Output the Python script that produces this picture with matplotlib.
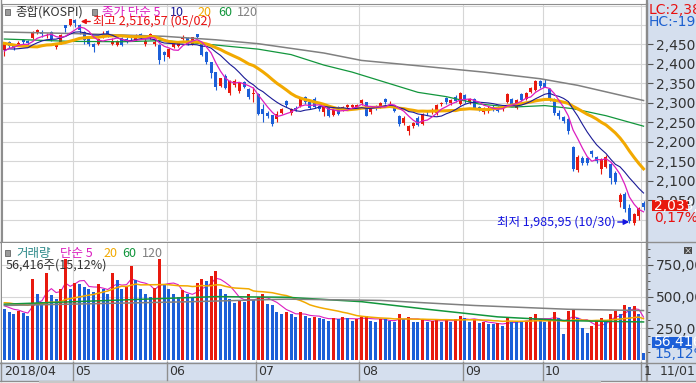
import numpy as np
import pandas as pd
import matplotlib
matplotlib.use('Agg')
import matplotlib.pyplot as plt
from matplotlib.patches import Rectangle

plt.rcParams['font.family'] = ['Noto Sans CJK KR', 'DejaVu Sans']
NUM_FONT = ['DejaVu Sans']

# ---------------- data ----------------
month_labels = ['2018/04', '05', '06', '07', '08', '09', '10', '1']
month_start = [0, 15, 35, 54, 76, 98, 115, 136]

opens = [2437, 2457, 2446, 2448, 2462, 2459, 2467, 2481, 2483, 2473, 2481, 2444, 2454, 2499, 2500,
         2514, 2501, 2482, 2466, 2452, 2452, 2470, 2484, 2452, 2449, 2466, 2465, 2468, 2462, 2478,
         2450, 2466, 2450, 2448, 2431,
         2418, 2444, 2447, 2465, 2466, 2452, 2476, 2451, 2430, 2404, 2378, 2344, 2370, 2325, 2345,
         2330, 2353, 2336, 2323,
         2323, 2285, 2273, 2268, 2258, 2275, 2306, 2275, 2288, 2293, 2316, 2302, 2310, 2292, 2276,
         2289, 2270, 2289, 2282, 2289, 2289, 2288,
         2299, 2301, 2276, 2290, 2291, 2309, 2301, 2293, 2267, 2247, 2228, 2241, 2262, 2245, 2275,
         2277, 2273, 2296, 2312, 2299, 2316, 2297,
         2319, 2301, 2310, 2289, 2276, 2278, 2290, 2290, 2285, 2302, 2310, 2287, 2322, 2310, 2328,
         2333, 2356,
         2352, 2336, 2310, 2273, 2263, 2258, 2187, 2128, 2157, 2157, 2176, 2160, 2131, 2136, 2142,
         2121, 2044, 2065, 2030, 1990, 2008,
         2042]
highs = [2456, 2460, 2449, 2460, 2465, 2462, 2484, 2491, 2486, 2480, 2484, 2453, 2477, 2501, 2516,
         2516.57, 2503, 2484, 2470, 2455, 2466, 2484, 2487, 2466, 2462, 2468, 2468, 2472, 2476, 2480,
         2463, 2480, 2462, 2450, 2434,
         2441, 2454, 2456, 2475, 2468, 2469, 2478, 2453, 2433, 2406, 2380, 2365, 2374, 2358, 2360,
         2352, 2356, 2338, 2340,
         2325, 2296, 2280, 2270, 2278, 2287, 2308, 2288, 2292, 2313, 2318, 2306, 2314, 2295, 2292,
         2291, 2284, 2292, 2292, 2298, 2298, 2298,
         2310, 2303, 2292, 2294, 2303, 2312, 2306, 2295, 2270, 2265, 2244, 2252, 2265, 2274, 2280,
         2286, 2297, 2303, 2316, 2310, 2320, 2328,
         2322, 2312, 2313, 2293, 2290, 2292, 2294, 2293, 2290, 2326, 2313, 2310, 2325, 2327, 2341,
         2358, 2358,
         2360, 2338, 2312, 2282, 2266, 2262, 2190, 2165, 2163, 2160, 2180, 2163, 2158, 2165, 2145,
         2124, 2068, 2070, 2040, 2016, 2032,
         2047]
lows = [2420, 2441, 2436, 2446, 2452, 2448, 2465, 2478, 2470, 2467, 2460, 2438, 2452, 2483, 2497,
        2494, 2478, 2450, 2445, 2430, 2448, 2467, 2470, 2449, 2445, 2445, 2455, 2462, 2460, 2463,
        2446, 2464, 2446, 2400, 2408,
        2415, 2442, 2444, 2462, 2449, 2449, 2465, 2420, 2400, 2364, 2334, 2340, 2335, 2320, 2340,
        2326, 2338, 2310, 2301,
        2268, 2250, 2262, 2240, 2250, 2272, 2290, 2270, 2278, 2290, 2298, 2285, 2286, 2280, 2267,
        2264, 2266, 2268, 2278, 2285, 2284, 2284,
        2295, 2265, 2272, 2282, 2288, 2298, 2297, 2276, 2241, 2243, 2218, 2236, 2241, 2243, 2268,
        2272, 2270, 2292, 2298, 2295, 2302, 2294,
        2300, 2297, 2285, 2278, 2272, 2274, 2280, 2276, 2280, 2300, 2295, 2285, 2305, 2308, 2326,
        2331, 2338,
        2340, 2305, 2268, 2258, 2248, 2220, 2126, 2122, 2140, 2140, 2162, 2146, 2118, 2133, 2092,
        2092, 2032, 2020, 1990, 1985.95, 2000,
        2025]
closes = [2453, 2445, 2442, 2455, 2456, 2454, 2479, 2486, 2476, 2475, 2465, 2449, 2475, 2492, 2515,
          2505, 2487, 2461, 2450, 2443, 2464, 2477, 2476, 2458, 2459, 2448, 2460, 2466, 2471, 2466,
          2460, 2478, 2457, 2409, 2423,
          2439, 2451, 2453, 2470, 2451, 2468, 2470, 2423, 2404, 2376, 2340, 2363, 2337, 2357, 2357,
          2350, 2342, 2314, 2326,
          2271, 2272, 2265, 2245, 2272, 2285, 2294, 2285, 2282, 2310, 2302, 2288, 2290, 2284, 2289,
          2267, 2282, 2272, 2289, 2295, 2295, 2295,
          2307, 2267, 2289, 2287, 2300, 2302, 2303, 2280, 2245, 2262, 2241, 2249, 2244, 2272, 2273,
          2281, 2295, 2299, 2302, 2307, 2305, 2325,
          2304, 2309, 2288, 2283, 2286, 2288, 2284, 2280, 2286, 2323, 2297, 2307, 2308, 2325, 2339,
          2355, 2343,
          2339, 2309, 2274, 2267, 2254, 2228, 2129, 2161, 2146, 2146, 2168, 2151, 2156, 2161, 2106,
          2097, 2063, 2027, 1996, 2014, 2030,
          2033]
# closes before the first visible day (needed by the 5/10/20 day averages)
prior_closes = [2486, 2486, 2495, 2474, 2475, 2485, 2496, 2417, 2437, 2455, 2409, 2446, 2446,
                2444, 2442, 2408, 2430, 2429, 2444]

# 60 / 120 day averages, read at a few points along the lines
ma60_idx = [0, 14, 25, 34, 42, 54, 61, 68, 74, 81, 88, 94, 101, 108, 115, 121, 128, 136]
ma60_val = [2464, 2458, 2457, 2460, 2452, 2438, 2424, 2397, 2379, 2353, 2327, 2316, 2297, 2289,
            2293, 2285, 2267, 2240]
ma120_idx = [0, 15, 34, 45, 54, 68, 76, 90, 102, 114, 122, 136]
ma120_val = [2482, 2478, 2471, 2462, 2452, 2428, 2409, 2393, 2379, 2362, 2345, 2306]

# volume in thousands of shares (display unit)
volume = [400, 380, 360, 390, 370, 350, 635, 520, 460, 690, 510, 480, 560, 795, 560,
          605, 600, 575, 560, 540, 600, 560, 520, 685, 630, 560, 575, 745, 630, 560,
          520, 500, 565, 800, 590,
          560, 520, 500, 550, 520, 500, 605, 640, 620, 660, 700, 560, 520, 480, 450,
          470, 460, 520, 470,
          500, 520, 440, 430, 380, 360, 380, 360, 340, 380, 350, 330, 340, 330, 320,
          310, 330, 320, 340, 330, 310, 320,
          340, 350, 310, 300, 320, 320, 310, 300, 360, 320, 340, 300, 300, 320, 300,
          310, 320, 300, 320, 300, 320, 350,
          330, 300, 320, 290, 300, 280, 280, 290, 270, 330, 300, 300, 300, 310, 340,
          360, 320,
          300, 310, 380, 330, 205, 390, 405, 330, 250, 215, 265, 310, 335, 300, 360,
          385, 360, 435, 415, 425, 360,
          56.416]
prior_volume = [420, 480, 450, 470, 430, 410, 460, 520, 480, 450, 500, 470, 440, 430, 480, 450,
                430, 420, 440]
vma60_idx = [0, 30, 45, 60, 76, 90, 105, 120, 136]
vma60_val = [440, 480, 500, 495, 460, 400, 340, 310, 300]
vma120_idx = [0, 40, 60, 80, 100, 120, 136]
vma120_val = [430, 460, 480, 470, 430, 400, 390]

# ---------------- figure ----------------
W, H = 696, 383
fig = plt.figure(figsize=(W / 100, H / 100), dpi=100)

def rect(x0, y0, x1, y1):
    return [x0 / W, 1 - y1 / H, (x1 - x0) / W, (y1 - y0) / H]

PANEL = '#D5DFEE'
EDGE = '#8E8E8E'
GRID = '#D6D6D6'
RED = '#E8190E'
BLUE = '#1C5FD8'
C5, C10, C20, C60, C120 = '#DC1EC0', '#1A1A96', '#F2A900', '#12963C', '#808080'

bg = fig.add_axes([0, 0, 1, 1])
bg.set_xlim(0, W); bg.set_ylim(H, 0); bg.axis('off')
bg.add_patch(Rectangle((647, 0), W - 647, 381, color=PANEL, lw=0))
bg.add_patch(Rectangle((0, 362), W, 19, color=PANEL, lw=0))
bg.plot([0, W], [242, 242], color=EDGE, lw=1)
bg.plot([0, W], [362.5, 362.5], color=EDGE, lw=1)
bg.plot([0, W], [380.5, 380.5], color=EDGE, lw=1)
bg.plot([0.5, 0.5], [0, 381], color=EDGE, lw=1)
bg.plot([40, 600], [382, 382], color='#C8C8C8', lw=1.5)

n = len(closes)
x = np.arange(n)
o, h, l, c = map(np.array, (opens, highs, lows, closes))
up = c >= o
cols = np.where(up, RED, BLUE)
xlim = (-0.5, -0.5 + 645 / 4.7)
bounds = [s - 0.5 for s in month_start[1:]]

# ---- price panel ----
ax = fig.add_axes(rect(2, 4, 647, 241))
ax.set_xlim(*xlim)
ax.set_ylim(1945, 2554)
for lv in range(2000, 2551, 50):
    ax.axhline(lv, color=GRID, lw=0.8, zorder=0)
for b in bounds:
    ax.axvline(b, color=GRID, lw=0.8, zorder=0)

ax.vlines(x, l, h, colors=cols, lw=0.8, zorder=2)
ax.bar(x, np.maximum(np.abs(c - o), 0.9), bottom=np.minimum(o, c), width=0.62,
       color=cols, lw=0, zorder=3)

allc = pd.Series(prior_closes + closes, dtype=float)
ma5 = allc.rolling(5).mean().values[-n:]
ma10 = allc.rolling(10).mean().values[-n:]
ma20 = allc.rolling(20).mean().values[-n:]
ax.plot(ma120_idx, ma120_val, color=C120, lw=1.1, zorder=4)
ax.plot(ma60_idx, ma60_val, color=C60, lw=0.9, zorder=4)
ax.plot(x, ma20, color=C20, lw=2.2, zorder=4)
ax.plot(x, ma10, color=C10, lw=0.8, zorder=5)
ax.plot(x, ma5, color=C5, lw=0.9, zorder=5)

ax.set_xticks([])
ax.yaxis.tick_right()
pt = list(range(2050, 2451, 50))
ax.set_yticks(pt)
ax.set_yticklabels([f"{v:,},00" for v in pt])
ax.tick_params(axis='y', direction='out', length=4, width=0.8, color='#555555',
               pad=2.5, labelsize=10, labelcolor='#333333')
for t in ax.get_yticklabels():
    t.set_family(NUM_FONT)
for s in ('top', 'left', 'bottom'):
    ax.spines[s].set_color(EDGE); ax.spines[s].set_linewidth(0.8)
ax.spines['bottom'].set_visible(False)
ax.spines['right'].set_color('#8A8A8A'); ax.spines['right'].set_linewidth(1.6)

# ---- volume panel ----
av = fig.add_axes(rect(2, 243, 647, 362))
av.set_xlim(*xlim)
av.set_ylim(-16, 923)
for lv in (250, 500, 750):
    av.axhline(lv, color=GRID, lw=0.8, zorder=0)
for b in bounds:
    av.axvline(b, color=GRID, lw=0.8, zorder=0)
vol = np.array(volume, dtype=float)
prev = np.concatenate([[prior_volume[-1]], vol[:-1]])
vcols = np.where(vol > prev, RED, BLUE)
allv = pd.Series(prior_volume + volume, dtype=float)
vma5 = allv.rolling(5).mean().values[-n:]
vma20 = allv.rolling(20).mean().values[-n:]
av.plot(x, vma5, color=C5, lw=0.8, zorder=1)
av.bar(x, vol, width=0.64, color=vcols, lw=0, zorder=2)
av.plot(x, vma20, color=C20, lw=1.1, zorder=3)
av.plot(vma60_idx, vma60_val, color=C60, lw=1.1, zorder=3)
av.plot(vma120_idx, vma120_val, color=C120, lw=1.1, zorder=3)
av.set_xticks([])
av.yaxis.tick_right()
av.set_yticks([250, 500, 750])
av.set_yticklabels(['250,000', '500,000', '750,000'])
av.set_yticks([v for v in np.arange(62.5, 900, 62.5) if v % 250], minor=True)
av.tick_params(axis='y', which='major', direction='out', length=4, width=0.8, color='#555555',
               pad=2.5, labelsize=10, labelcolor='#333333')
av.tick_params(axis='y', which='minor', direction='out', length=2.5, width=0.7, color='#555555')
for t in av.get_yticklabels():
    t.set_family(NUM_FONT)
for s in ('top', 'left', 'bottom'):
    av.spines[s].set_visible(False)
av.spines['right'].set_color('#8A8A8A'); av.spines['right'].set_linewidth(1.6)

# ---- overlay texts ----
ov = fig.add_axes([0, 0, 1, 1])
ov.set_xlim(0, W); ov.set_ylim(H, 0); ov.axis('off')
ov.patch.set_alpha(0)

def sq(x0, y0):
    ov.add_patch(Rectangle((x0, y0), 5, 6, facecolor='#9A9A9A', edgecolor='#666666', lw=0.6))

sq(5, 9)
ov.text(15, 12.5, '종합(KOSPI)', color='#333333', fontsize=9, va='center')
sq(92, 9)
ov.text(102, 12.5, '종가 단순 5', color=C5, fontsize=9, va='center')
ov.text(170, 12.5, '10', color=C10, fontsize=9, va='center')
ov.text(197, 12.5, '20', color=C20, fontsize=9, va='center')
ov.text(218, 12.5, '60', color=C60, fontsize=9, va='center')
ov.text(237, 12.5, '120', color=C120, fontsize=9, va='center')

ov.annotate('', xy=(78, 21.5), xytext=(93, 21.5),
            arrowprops=dict(arrowstyle='-|>', color='#E81010', lw=1, mutation_scale=7))
ov.text(93, 21.5, '최고 2,516,57 (05/02)', color='#E81010', fontsize=9, va='center')
ov.text(497, 222, '최저 1,985,95 (10/30)', color='#1414E0', fontsize=9, va='center')
ov.annotate('', xy=(632, 222), xytext=(615, 222),
            arrowprops=dict(arrowstyle='-|>', color='#1414E0', lw=1, mutation_scale=8))

sq(5, 250)
ov.text(16, 253.5, '거래량', color='#2E8A8A', fontsize=9, va='center')
ov.text(60, 253.5, '단순 5', color=C5, fontsize=9, va='center')
ov.text(103, 253.5, '20', color=C20, fontsize=9, va='center')
ov.text(122, 253.5, '60', color=C60, fontsize=9, va='center')
ov.text(142, 253.5, '120', color=C120, fontsize=9, va='center')
ov.text(6, 265.5, '56,416주(15,12%)', color='#333333', fontsize=9, va='center')

# right panel labels
ov.text(649, 10.5, 'LC:2,38', color='#E81010', fontsize=10, va='center', family=NUM_FONT)
ov.text(649, 21.5, 'HC:-19,2', color='#1C60D0', fontsize=10, va='center', family=NUM_FONT)
ov.add_patch(Rectangle((652, 200), 36, 11, color='#E8190E', lw=0))
ov.text(654, 205.5, '2,033,', color='white', fontsize=10, va='center', family=NUM_FONT)
ov.text(654, 217.5, '0,17%', color='#E81010', fontsize=10, va='center', family=NUM_FONT)
ov.add_patch(Rectangle((652, 337), 40, 11, color='#1C5FD8', lw=0))
ov.text(654, 342.5, '56,416', color='white', fontsize=10, va='center', family=NUM_FONT)
ov.text(654, 354.5, '15,12%', color='#1C60D0', fontsize=10, va='center', family=NUM_FONT)
ov.add_patch(Rectangle((684, 247), 8, 7, color='#4A4A4A', lw=0))
ov.text(688, 250.5, '×', color='white', fontsize=6, ha='center', va='center')

# date strip
for lab, s in zip(month_labels, month_start):
    px = 2 + s * 4.7
    if s > 0:
        ov.plot([px, px], [362, 380], color=EDGE, lw=1)
    ov.text(px + 2.5, 371.5, lab, color='#333333', fontsize=9, va='center', family=NUM_FONT)
ov.plot([647, 647], [0, 381], color='#8A8A8A', lw=1.6)
ov.text(660, 371.5, '11/01', color='#333333', fontsize=9, va='center', family=NUM_FONT)

fig.savefig('out.png', dpi=100)
